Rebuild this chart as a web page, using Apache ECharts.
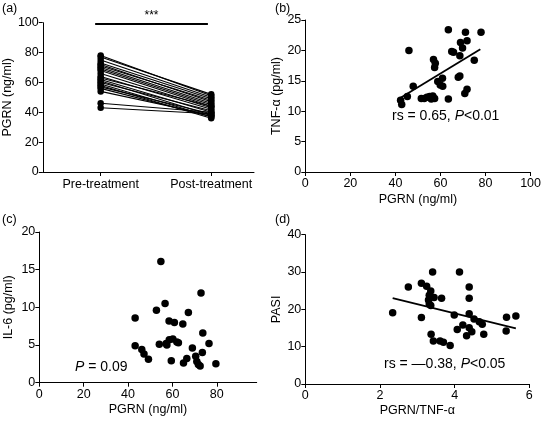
<!DOCTYPE html>
<html>
<head>
<meta charset="utf-8">
<script src="https://cdn.jsdelivr.net/npm/echarts@6/dist/echarts.min.js"></script>
<style>html,body{margin:0;padding:0;background:#fff}#c{width:544px;height:423px}</style>
</head>
<body>
<div id="c"></div>
<script>
// ---- Panel (a): paired PGRN values ----
const aCategories = ['Pre-treatment', 'Post-treatment'];
const aPre  = [78, 77, 75, 73, 72, 71, 70, 69, 68, 66, 64, 63, 62, 61, 60, 59, 58, 57, 56, 54, 46, 43];
const aPost = [51, 52, 50, 49, 47, 48, 46, 45, 44, 43, 42, 44, 40, 38, 41, 37, 36, 39, 37, 38, 40, 39];
const aYTicks = [0, 20, 40, 60, 80, 100];

// ---- Panel (b): PGRN vs TNF-alpha ----
const bPGRN = [42.3, 42.8, 45.3, 46.0, 47.9, 51.5, 52.8, 54.0, 55.2, 55.9, 56.6, 57.4, 56.9, 57.7, 57.4, 58.8, 59.9, 60.9, 61.0, 63.5, 63.5, 65.0, 65.8, 67.9, 68.6, 68.6, 68.9, 69.8, 71.1, 70.8, 71.8, 71.8, 75.0, 78.0];
const bTNF  = [11.8, 11.1, 12.4, 20.0, 14.1, 12.1, 12.1, 12.3, 12.4, 12.0, 12.5, 12.1, 18.5, 17.9, 17.2, 14.9, 14.3, 15.4, 14.1, 23.4, 12.0, 19.8, 19.7, 15.6, 15.8, 19.1, 21.3, 20.4, 23.0, 12.9, 13.6, 21.6, 18.4, 23.0];
const bFitX = [42.3, 77.7];
const bFitY = [12.2, 20.2];

// ---- Panel (c): PGRN vs IL-6 ----
const cPGRN = [54.8, 72.9, 56.7, 52.8, 67.2, 43.2, 58.5, 60.9, 64.7, 73.7, 76.5, 43.2, 46.2, 47.2, 49.2, 54.1, 57.5, 58.6, 60.2, 62.0, 62.7, 59.5, 69.0, 73.5, 66.5, 65.0, 70.5, 71.0, 71.7, 72.5, 79.6, 57.2];
const cIL6  = [16.1, 11.9, 10.5, 9.6, 9.3, 8.6, 8.2, 8.0, 7.8, 6.6, 5.2, 4.9, 4.4, 3.8, 3.1, 5.1, 5.0, 5.7, 5.8, 5.4, 5.3, 2.9, 4.6, 4.0, 3.2, 2.6, 3.5, 2.8, 2.4, 2.2, 2.5, 5.2];

// ---- Panel (d): PGRN/TNF-alpha vs PASI ----
const dRatio = [2.34, 2.76, 3.11, 3.11, 3.25, 3.36, 3.32, 3.45, 3.65, 3.30, 3.32, 3.36, 3.41, 4.13, 4.39, 4.39, 3.99, 4.39, 4.52, 4.66, 4.74, 4.22, 4.07, 4.39, 4.46, 4.32, 4.78, 5.39, 5.64, 5.38, 3.37, 3.43, 3.61, 3.70, 3.88];
const dPASI  = [19.1, 26.0, 27.0, 17.8, 26.2, 24.9, 23.8, 23.2, 23.0, 22.5, 21.4, 21.0, 30.0, 30.0, 26.0, 23.0, 18.5, 18.8, 17.4, 16.7, 16.0, 15.8, 14.6, 15.1, 14.0, 12.9, 13.3, 17.9, 18.2, 14.2, 13.3, 11.5, 11.5, 11.2, 10.3];
const dFitX = [2.34, 5.64];
const dFitY = [23.0, 14.9];

const FONT = "'Liberation Sans', Arial, Helvetica, sans-serif";
const FS = 12.5;
const black = '#000';

function axisCommon(extra) {
  return Object.assign({
    axisLine: { show: true, onZero: false, lineStyle: { color: black, width: 1 } },
    axisTick: { show: true, inside: false, length: 4, lineStyle: { color: black } },
    axisLabel: { color: black, fontFamily: FONT, fontSize: FS, margin: 5 },
    splitLine: { show: false },
    nameTextStyle: { color: black, fontFamily: FONT, fontSize: FS },
    nameLocation: 'middle'
  }, extra);
}

const zip = (xs, ys) => xs.map((x, i) => [x, ys[i]]);

const grids = [
  { left: 40, top: 22.7, width: 214, height: 149.3 },
  { left: 305.3, top: 20, width: 228.4, height: 152 },
  { left: 39.3, top: 232, width: 217.4, height: 150.7 },
  { left: 305.3, top: 234.7, width: 224, height: 149.3 }
];

const xAxes = [
  axisCommon({ gridIndex: 0, type: 'value', min: -0.524, max: 1.387,
    axisTick: { show: true, length: 4, lineStyle: { color: black }, customValues: [0, 1] },
    axisLabel: { color: black, fontFamily: FONT, fontSize: FS, margin: 6, customValues: [0, 1],
      formatter: v => aCategories[Math.round(v)] } }),
  axisCommon({ gridIndex: 1, type: 'value', min: 0, max: 100, interval: 20, name: 'PGRN (ng/ml)', nameGap: 21 }),
  axisCommon({ gridIndex: 2, type: 'value', min: 0, max: 98, name: 'PGRN (ng/ml)', nameGap: 20,
    axisTick: { show: true, length: 4, lineStyle: { color: black }, customValues: [0, 20, 40, 60, 80] },
    axisLabel: { color: black, fontFamily: FONT, fontSize: FS, margin: 5, customValues: [0, 20, 40, 60, 80] } }),
  axisCommon({ gridIndex: 3, type: 'value', min: 0, max: 6, interval: 2, name: 'PGRN/TNF-α', nameGap: 20 })
];

const yAxes = [
  axisCommon({ gridIndex: 0, type: 'value', min: 0, max: 100, interval: 20, name: 'PGRN (ng/ml)', nameGap: 23 }),
  axisCommon({ gridIndex: 1, type: 'value', min: 0, max: 25, interval: 5, name: 'TNF-α (pg/ml)', nameGap: 22 }),
  axisCommon({ gridIndex: 2, type: 'value', min: 0, max: 20, interval: 5, name: 'IL-6 (pg/ml)', nameGap: 24 }),
  axisCommon({ gridIndex: 3, type: 'value', min: 0, max: 40, interval: 10, name: 'PASI', nameGap: 21 })
];
yAxes.forEach(a => { a.axisLabel.margin = 4; });

const series = [];
aPre.forEach((p, i) => {
  series.push({
    type: 'line', xAxisIndex: 0, yAxisIndex: 0,
    data: [[0, p], [1, aPost[i]]],
    symbol: 'circle', symbolSize: 6.5,
    itemStyle: { color: black, opacity: 1 }, lineStyle: { color: black, width: 1.1 },
    silent: true, animation: false, z: 3
  });
});
// significance bar
series.push({
  type: 'line', xAxisIndex: 0, yAxisIndex: 0, data: [], silent: true, animation: false,
  markLine: {
    symbol: 'none', silent: true, animation: false,
    lineStyle: { color: black, width: 2, type: 'solid' },
    label: { show: true, position: 'middle', formatter: '***', color: black, fontFamily: FONT, fontSize: 12, distance: 3 },
    data: [[{ coord: [-0.05, 99] }, { coord: [0.97, 99] }]]
  }
});

function scatter(idx, xs, ys) {
  series.push({
    type: 'scatter', xAxisIndex: idx, yAxisIndex: idx,
    data: zip(xs, ys), symbol: 'circle', symbolSize: 7.5,
    itemStyle: { color: black, opacity: 1 }, silent: true, animation: false
  });
}
function fit(idx, xs, ys) {
  series.push({
    type: 'line', xAxisIndex: idx, yAxisIndex: idx, data: zip(xs, ys),
    symbol: 'none', lineStyle: { color: black, width: 1.8 }, silent: true, animation: false
  });
}
scatter(1, bPGRN, bTNF); fit(1, bFitX, bFitY);
scatter(2, cPGRN, cIL6);
scatter(3, dRatio, dPASI); fit(3, dFitX, dFitY);

const rich = {
  n: { fontFamily: FONT, fontSize: 14, fill: black },
  i: { fontFamily: FONT, fontSize: 14, fontStyle: 'italic', fill: black }
};
function label(x, y, text) {
  return { type: 'text', left: x, top: y, style: { text: text, rich: rich, fill: black, verticalAlign: 'middle' } };
}
function panel(x, y, t) {
  return { type: 'text', left: x, top: y, style: { text: t, fontFamily: FONT, fontSize: 12.5, fill: black } };
}

const chart = echarts.init(document.getElementById('c'), null, { renderer: 'canvas' });
chart.setOption({
  backgroundColor: '#fff',
  animation: false,
  grid: grids,
  xAxis: xAxes,
  yAxis: yAxes,
  series: series,
  graphic: [
    panel(2, 2, '(a)'), panel(275, 2, '(b)'), panel(2, 213, '(c)'), panel(275, 213, '(d)'),
    label(392, 109, '{n|rs = 0.65, }{i|P}{n|<0.01}'),
    label(75, 360, '{i|P}{n| = 0.09}'),
    label(384, 357, '{n|rs = —0.38, }{i|P}{n|<0.05}')
  ]
});
</script>
</body>
</html>
